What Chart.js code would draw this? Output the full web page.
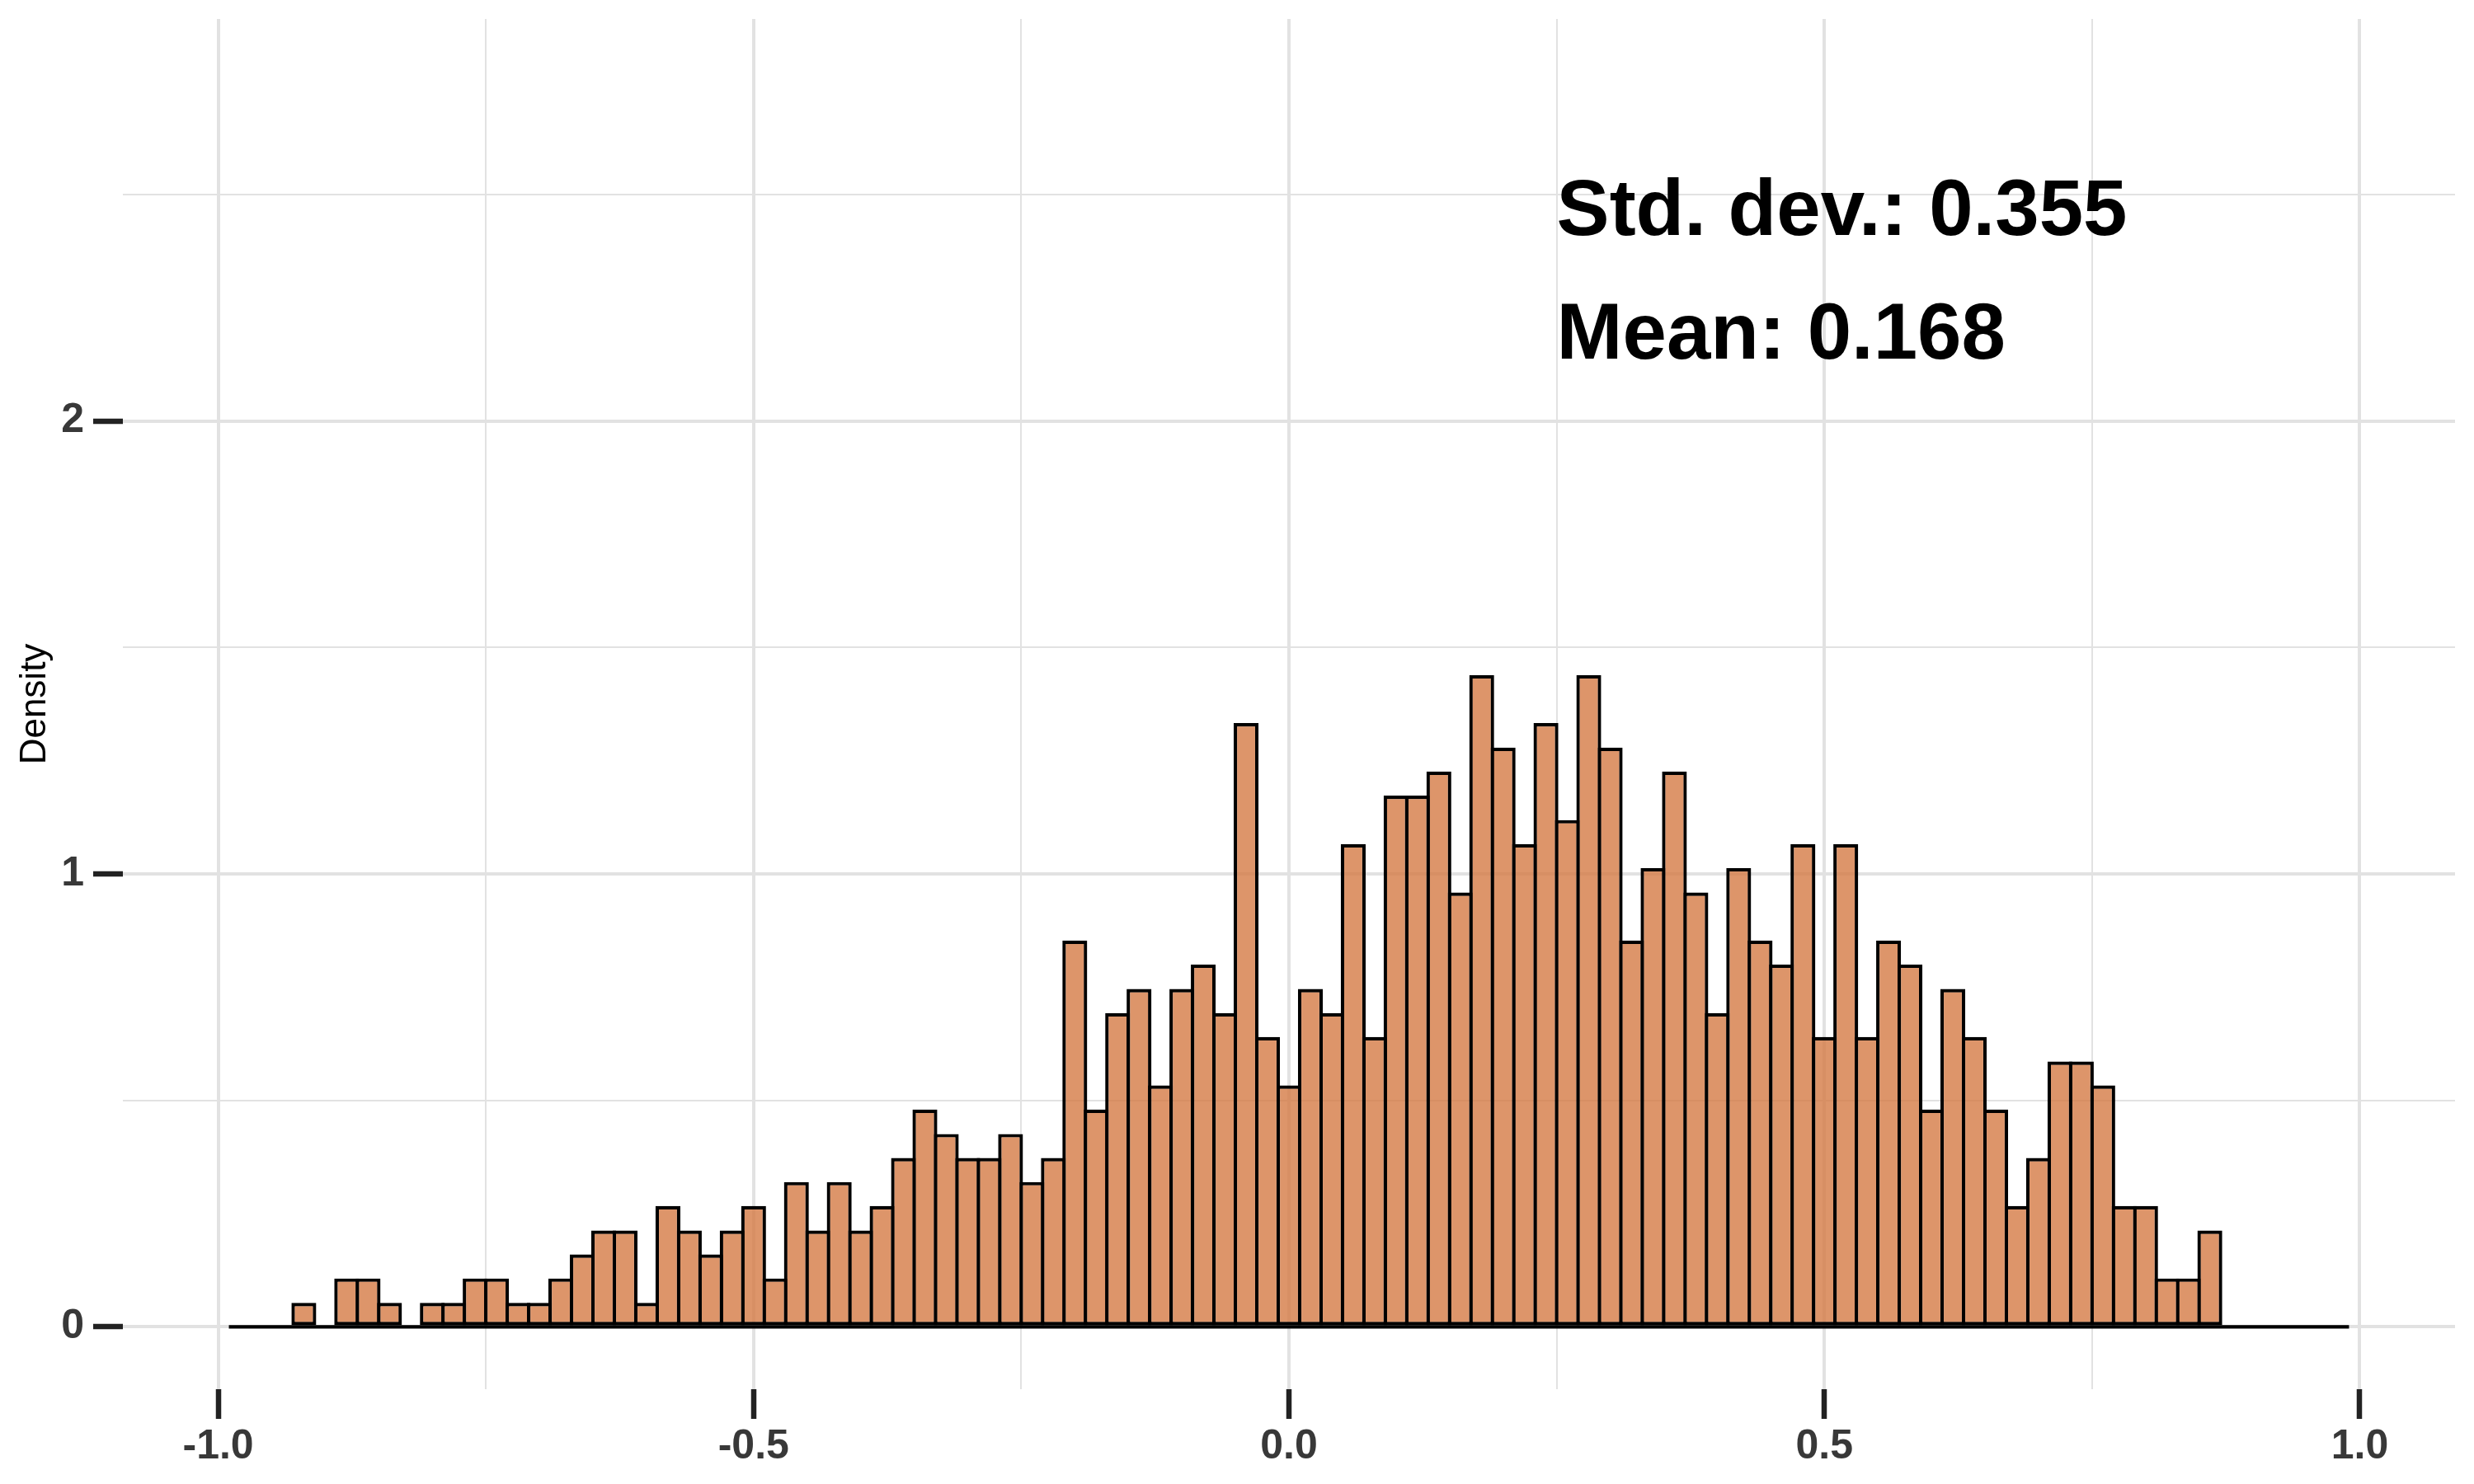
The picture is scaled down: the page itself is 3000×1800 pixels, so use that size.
<!DOCTYPE html>
<html>
<head>
<meta charset="utf-8">
<script src="https://cdn.jsdelivr.net/npm/chart.js@4.4.1/dist/chart.umd.min.js"></script>
<style>
  html, body { margin: 0; padding: 0; background: #ffffff; }
  #wrap { width: 3000px; height: 1800px; }
</style>
</head>
<body>
<div id="wrap"><canvas id="chart" width="3000" height="1800"></canvas></div>
<script>
// histogram bins: 99 bins of width 0.02 from -0.99 to 0.99
const binStart = -0.99;
const binWidth = 0.02;
const density = [
  0, 0, 0, 0.053, 0, 0.107, 0.107, 0.053, 0, 0.053,
  0.053, 0.107, 0.107, 0.053, 0.053, 0.107, 0.160, 0.213, 0.213, 0.053,
  0.267, 0.213, 0.160, 0.213, 0.267, 0.107, 0.320, 0.213, 0.320, 0.213,
  0.267, 0.373, 0.480, 0.426, 0.373, 0.373, 0.426, 0.320, 0.373, 0.853,
  0.480, 0.693, 0.746, 0.533, 0.746, 0.800, 0.693, 1.333, 0.640, 0.533,
  0.746, 0.693, 1.066, 0.640, 1.173, 1.173, 1.226, 0.959, 1.439, 1.279,
  1.066, 1.333, 1.119, 1.439, 1.279, 0.853, 1.013, 1.226, 0.959, 0.693,
  1.013, 0.853, 0.800, 1.066, 0.640, 1.066, 0.640, 0.853, 0.800, 0.480,
  0.746, 0.640, 0.480, 0.267, 0.373, 0.586, 0.586, 0.533, 0.267, 0.267,
  0.107, 0.107, 0.213, 0, 0, 0, 0, 0, 0
];
const binCenters = density.map((d, i) => +(binStart + binWidth * (i + 0.5)).toFixed(3));

const xTicks = [-1, -0.75, -0.5, -0.25, 0, 0.25, 0.5, 0.75, 1];
const xTickLabels = ['-1.0', '', '-0.5', '', '0.0', '', '0.5', '', '1.0'];
const yTicks = [0, 0.5, 1, 1.5, 2, 2.5];
const yTickLabels = ['0', '', '1', '', '2', ''];

const statsLines = ['Std. dev.: 0.355', 'Mean: 0.168'];
const statsX = 0.25;
const statsY = [2.41, 2.138];

const gridMajor = '#e2e2e2';
const borderW = 4.2;

Chart.defaults.font.family = '"Liberation Sans", Arial, sans-serif';

const statsText = {
  id: 'statsText',
  afterDatasetsDraw(chart) {
    const ctx = chart.ctx;
    const xs = chart.scales.x, ys = chart.scales.y;
    ctx.save();
    ctx.font = 'bold 96px "Liberation Sans", Arial, sans-serif';
    ctx.fillStyle = '#000000';
    ctx.textAlign = 'left';
    ctx.textBaseline = 'alphabetic';
    statsLines.forEach((t, i) => {
      ctx.fillText(t, xs.getPixelForValue(statsX), ys.getPixelForValue(statsY[i]));
    });
    ctx.restore();
  }
};

new Chart(document.getElementById('chart'), {
  type: 'bar',
  data: {
    datasets: [
      {
        type: 'bar',
        data: binCenters.map((x, i) => ({ x: x, y: density[i] })),
        backgroundColor: 'rgba(212, 122, 69, 0.8)',
        borderColor: '#000000',
        borderWidth: borderW,
        borderSkipped: false,
        barPercentage: 1 + borderW / 25.97,
        categoryPercentage: 1,
        order: 1
      },
      {
        type: 'line',
        data: [{ x: binStart, y: 0 }, { x: -binStart, y: 0 }],
        borderColor: '#000000',
        borderWidth: borderW,
        pointRadius: 0,
        order: 2
      }
    ]
  },
  options: {
    responsive: false,
    animation: false,
    devicePixelRatio: 1,
    layout: { padding: { top: 23, right: 23, left: 0, bottom: 0 } },
    plugins: { legend: { display: false }, tooltip: { enabled: false } },
    scales: {
      x: {
        type: 'linear',
        min: -1.089,
        max: 1.089,
        offset: false,
        afterBuildTicks: s => { s.ticks = xTicks.map(v => ({ value: v })); },
        afterFit: s => { s.height = 115; s.paddingLeft = 0; s.paddingRight = 0; },
        border: { display: false },
        grid: {
          offset: false,
          color: c => gridMajor,
          lineWidth: c => xTickLabels[c.index] ? 4 : 2,
          tickLength: 36,
          tickWidth: 6.5,
          tickColor: c => xTickLabels[c.index] ? '#222222' : 'rgba(0,0,0,0)'
        },
        ticks: {
          autoSkip: false,
          maxRotation: 0,
          padding: 4,
          color: '#383838',
          font: { size: 50, weight: 'bold' },
          callback: (v, i) => xTickLabels[i]
        }
      },
      y: {
        type: 'linear',
        min: -0.1375,
        max: 2.8875,
        afterBuildTicks: s => { s.ticks = yTicks.map(v => ({ value: v })); },
        afterFit: s => { s.width = 149; s.paddingTop = 0; s.paddingBottom = 0; },
        border: { display: false },
        title: {
          display: true,
          text: 'Density',
          color: '#000000',
          font: { size: 44 },
          padding: { top: 16, bottom: 0 }
        },
        grid: {
          color: c => gridMajor,
          lineWidth: c => yTickLabels[c.index] ? 4 : 2,
          tickLength: 36,
          tickWidth: 6.5,
          tickColor: c => yTickLabels[c.index] ? '#222222' : 'rgba(0,0,0,0)'
        },
        ticks: {
          autoSkip: false,
          padding: 11,
          color: '#383838',
          font: { size: 50, weight: 'bold' },
          callback: (v, i) => yTickLabels[i]
        }
      }
    }
  },
  plugins: [statsText]
});
</script>
</body>
</html>
